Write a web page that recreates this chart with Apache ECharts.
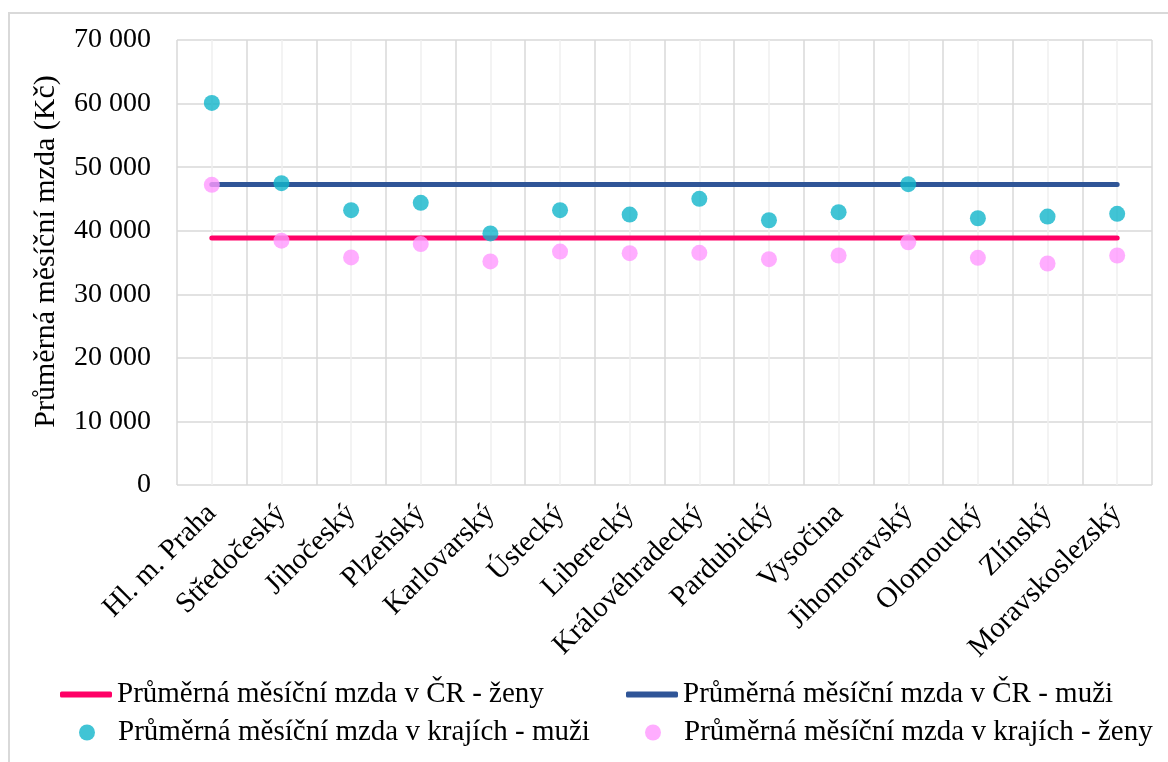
<!DOCTYPE html>
<html>
<head>
<meta charset="utf-8">
<script src="https://cdn.jsdelivr.net/npm/echarts@6/dist/echarts.min.js"></script>
<style>
html,body{margin:0;padding:0;background:#fff;}
#chart{width:1168px;height:762px;}
</style>
</head>
<body>
<div id="chart"></div>
<script>
const regions = ['Hl. m. Praha','Středočeský','Jihočeský','Plzeňský','Karlovarský','Ústecký','Liberecký','Královéhradecký','Pardubický','Vysočina','Jihomoravský','Olomoucký','Zlínský','Moravskoslezský'];
const menRegions = [60100, 47480, 43230, 44380, 39580, 43230, 42540, 45010, 41650, 42910, 47320, 41960, 42230, 42650];
const womenRegions = [47220, 38430, 35800, 37900, 35170, 36720, 36470, 36520, 35520, 36100, 38180, 35730, 34840, 36100];
const womenCR = [38850, 38850, 38850, 38850, 38850, 38850, 38850, 38850, 38850, 38850, 38850, 38850, 38850, 38850];
const menCR = [47270, 47270, 47270, 47270, 47270, 47270, 47270, 47270, 47270, 47270, 47270, 47270, 47270, 47270];
const yTicks = [0, 10000, 20000, 30000, 40000, 50000, 60000, 70000];

const names = {
  wCR: 'Průměrná měsíční mzda v ČR - ženy',
  mCR: 'Průměrná měsíční mzda v ČR - muži',
  mR: 'Průměrná měsíční mzda v krajích - muži',
  wR: 'Průměrná měsíční mzda v krajích - ženy'
};
const FONT = '"Liberation Serif", "Times New Roman", serif';
const gridLine = '#d9d9d9';

function fmt(v){ return String(v).replace(/\B(?=(\d{3})+(?!\d))/g, ' '); }

const chart = echarts.init(document.getElementById('chart'));
const legendText = {fontFamily: FONT, fontSize: 29, color: '#000'};
function lg(name, left, top, icon, h){
  return {data:[name], left:left, top:top, padding:0, icon:icon, itemWidth:52, itemHeight:h,
          textStyle:legendText, selectedMode:false};
}
chart.setOption({
  animation:false,
  graphic:[{type:'rect', shape:{x:9, y:13, width:1300, height:900}, style:{fill:'none', stroke:gridLine, lineWidth:2}, silent:true, z:-10}],
  grid:{left:177, right:16, top:40, bottom:277},
  legend:[
    lg(names.wCR, 60, 680, 'roundRect', 6),
    lg(names.mCR, 626, 680, 'roundRect', 6),
    lg(names.mR, 79, 718, 'circle', 16),
    lg(names.wR, 645, 718, 'circle', 16)
  ],
  xAxis:[{
    type:'category', data:regions, boundaryGap:true,
    axisLine:{show:false}, axisTick:{show:false}, splitLine:{show:false},
    axisLabel:{rotate:45, margin:24, fontFamily:FONT, fontSize:29, color:'#000', interval:0}
  },{
    type:'value', min:0, max:14, interval:1, show:true, position:'bottom',
    axisLine:{show:false}, axisTick:{show:false}, axisLabel:{show:false},
    splitLine:{show:true, lineStyle:{color:gridLine, width:1.5}},
    minorTick:{show:false, splitNumber:2},
    minorSplitLine:{show:true, lineStyle:{color:'#f0f0f0', width:1.5}}
  }],
  yAxis:{
    type:'value', min:yTicks[0], max:yTicks[yTicks.length-1], interval:yTicks[1]-yTicks[0],
    name:'Průměrná měsíční mzda (Kč)', nameLocation:'middle', nameGap:116,
    nameTextStyle:{fontFamily:FONT, fontSize:30, color:'#000', padding:[0,0,0,22]},
    axisLine:{show:false}, axisTick:{show:false},
    axisLabel:{margin:26, fontFamily:FONT, fontSize:28, color:'#000', formatter:fmt},
    splitLine:{lineStyle:{color:gridLine, width:1.5}}
  },
  series:[
    {name:names.wCR, type:'line', data:womenCR, symbol:'none', color:'#ff0066',
     lineStyle:{width:5, color:'#ff0066', cap:'round'}, z:2},
    {name:names.mCR, type:'line', data:menCR, symbol:'none', color:'#2f5597',
     lineStyle:{width:5, color:'#2f5597', cap:'round'}, z:2},
    {name:names.mR, type:'scatter', data:menRegions, symbol:'circle', symbolSize:16,
     itemStyle:{color:'#12b5cb'}, z:3},
    {name:names.wR, type:'scatter', data:womenRegions, symbol:'circle', symbolSize:16,
     itemStyle:{color:'#ff99ff'}, z:3}
  ]
});
</script>
</body>
</html>
